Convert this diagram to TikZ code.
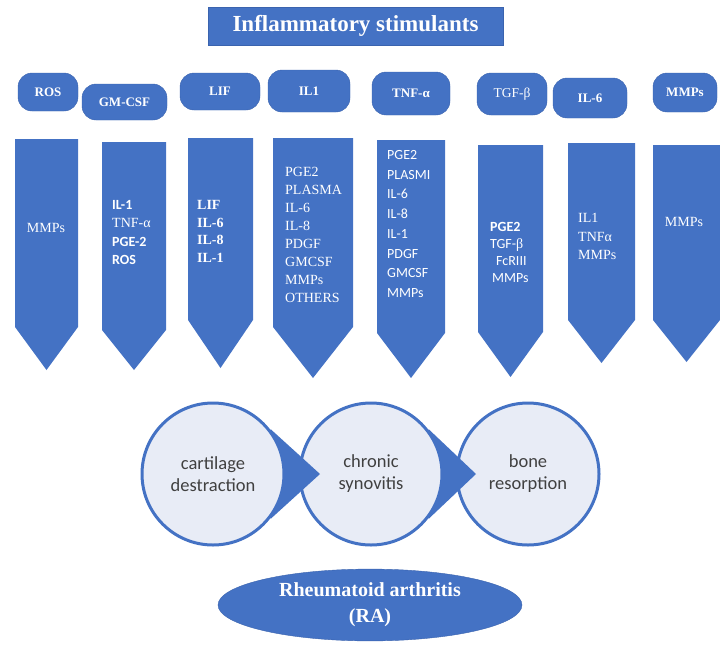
\documentclass[tikz,border=0pt]{standalone}
\usepackage{fontspec}
\setmainfont{Liberation Serif}
\setsansfont{Carlito}
\usepackage{tikz}
\usetikzlibrary{shapes.geometric}
\definecolor{mblue}{HTML}{4472C4}
\definecolor{mdark}{HTML}{3A63AE}
\definecolor{mpale}{HTML}{E8ECF6}
\definecolor{mgray}{HTML}{404040}

\begin{document}
\begin{tikzpicture}[x=1pt,y=-1pt,
  pill/.style={fill=mblue,draw=mdark,rounded corners=14pt,text=white,inner sep=0pt,font=\bfseries\fontsize{13}{16}\selectfont},
  atext/.style={text=white,align=left,anchor=west,inner sep=0pt,font=\fontsize{14}{18}\selectfont},
  stage/.style={circle,fill=mpale,draw=mblue,line width=3pt,minimum size=142pt,inner sep=0pt,text=mgray,align=center,font=\sffamily\fontsize{18.5}{22}\selectfont}]
\useasboundingbox (0,0) rectangle (720,648);
% title
\node[fill=mblue,draw=mdark,text=white,minimum width=295pt,minimum height=38pt,font=\bfseries\fontsize{23}{26}\selectfont] (title) at (355.5,26) {Inflammatory stimulants};
% stimulants
\node[pill,minimum width=60pt,minimum height=38pt] (ros) at (48,92) {ROS};
\node[pill,minimum width=85pt,minimum height=36pt] (gmcsf) at (124.5,102) {GM-CSF};
\node[pill,minimum width=80pt,minimum height=37pt] (lif) at (220,91.5) {LIF};
\node[pill,minimum width=82pt,minimum height=42pt] (ilone) at (309,91) {IL1};
\node[pill,minimum width=78pt,minimum height=43pt] (tnf) at (411,93.5) {TNF-α};
\node[pill,minimum width=70pt,minimum height=42pt,font=\fontsize{13.5}{16}\selectfont] (tgf) at (512,94) {TGF-β};
\node[pill,minimum width=74pt,minimum height=40pt] (ilsix) at (590,98) {IL-6};
\node[pill,minimum width=64pt,minimum height=39pt] (mmps) at (685,92.5) {MMPs};
% mediators
\fill[mblue] (15,139) -- (78,139) -- (78,327) -- (46.5,370) -- (15,327) -- cycle;
\fill[mblue] (102,142) -- (166,142) -- (166,330) -- (134,370) -- (102,330) -- cycle;
\fill[mblue] (188,138) -- (253,138) -- (253,320) -- (220.5,368) -- (188,320) -- cycle;
\fill[mblue] (273,138) -- (353,138) -- (353,327) -- (313,378) -- (273,327) -- cycle;
\fill[mblue] (377,140) -- (445,140) -- (445,333) -- (411,378) -- (377,333) -- cycle;
\fill[mblue] (478,145) -- (543,145) -- (543,332) -- (510.5,377) -- (478,332) -- cycle;
\fill[mblue] (568,143) -- (635,143) -- (635,320) -- (601.5,363) -- (568,320) -- cycle;
\fill[mblue] (653,145) -- (720,145) -- (720,320) -- (686.5,362) -- (653,320) -- cycle;
\node[atext,anchor=center] (med1) at (46,228) {MMPs};
\node[atext,font=\fontsize{14}{18.5}\selectfont] (med2) at (112,232.5) {{\sffamily\bfseries IL-1}\\TNF-α\\{\sffamily\bfseries PGE-2}\\{\sffamily\bfseries ROS}};
\node[atext,font=\bfseries\fontsize{14}{17.7}\selectfont] (med3) at (197,231.5) {LIF\\IL-6\\IL-8\\IL-1};
\node[atext] (med4) at (285,234.5) {PGE2\\PLASMA\\IL-6\\IL-8\\PDGF\\GMCSF\\MMPs\\OTHERS};
\node[atext,font=\sffamily\fontsize{14}{19.7}\selectfont] (med5) at (387,224) {PGE2\\PLASMI\\IL-6\\IL-8\\IL-1\\PDGF\\GMCSF\\MMPs};
\node[atext,font=\sffamily\fontsize{14}{17}\selectfont] (med6) at (490,252.5) {{\bfseries PGE2}\\TGF-{\rmfamily β}\\\hspace{6pt}FcRIII\\\hspace{2pt}MMPs};
\node[atext,font=\fontsize{14}{18.5}\selectfont] (med7) at (578,236.5) {IL1\\TNFα\\MMPs};
\node[atext,anchor=center] (med8) at (684,222) {MMPs};
% joint damage
\coordinate (k1) at (213,474);
\coordinate (k2) at (371,474);
\coordinate (k3) at (528,474);
\node[stage] (bone) at (k3) {bone\\resorption};
\fill[mblue] ([shift={(38:73)}]k2) -- ([shift={(0:105)}]k2) -- ([shift={(-38:73)}]k2) -- cycle;
\node[stage] (syno) at (k2) {chronic\\synovitis};
\fill[mblue] ([shift={(38:73)}]k1) -- ([shift={(0:107)}]k1) -- ([shift={(-38:73)}]k1) -- cycle;
\node[stage] (cart) at (k1) {cartilage\\destraction};
% disease
\node[ellipse,fill=mblue,draw=mdark,minimum width=304pt,minimum height=70pt,text=white,align=center,font=\bfseries\fontsize{20}{26}\selectfont] (ra) at (370,605) {Rheumatoid arthritis\\(RA)};
\end{tikzpicture}
\end{document}
